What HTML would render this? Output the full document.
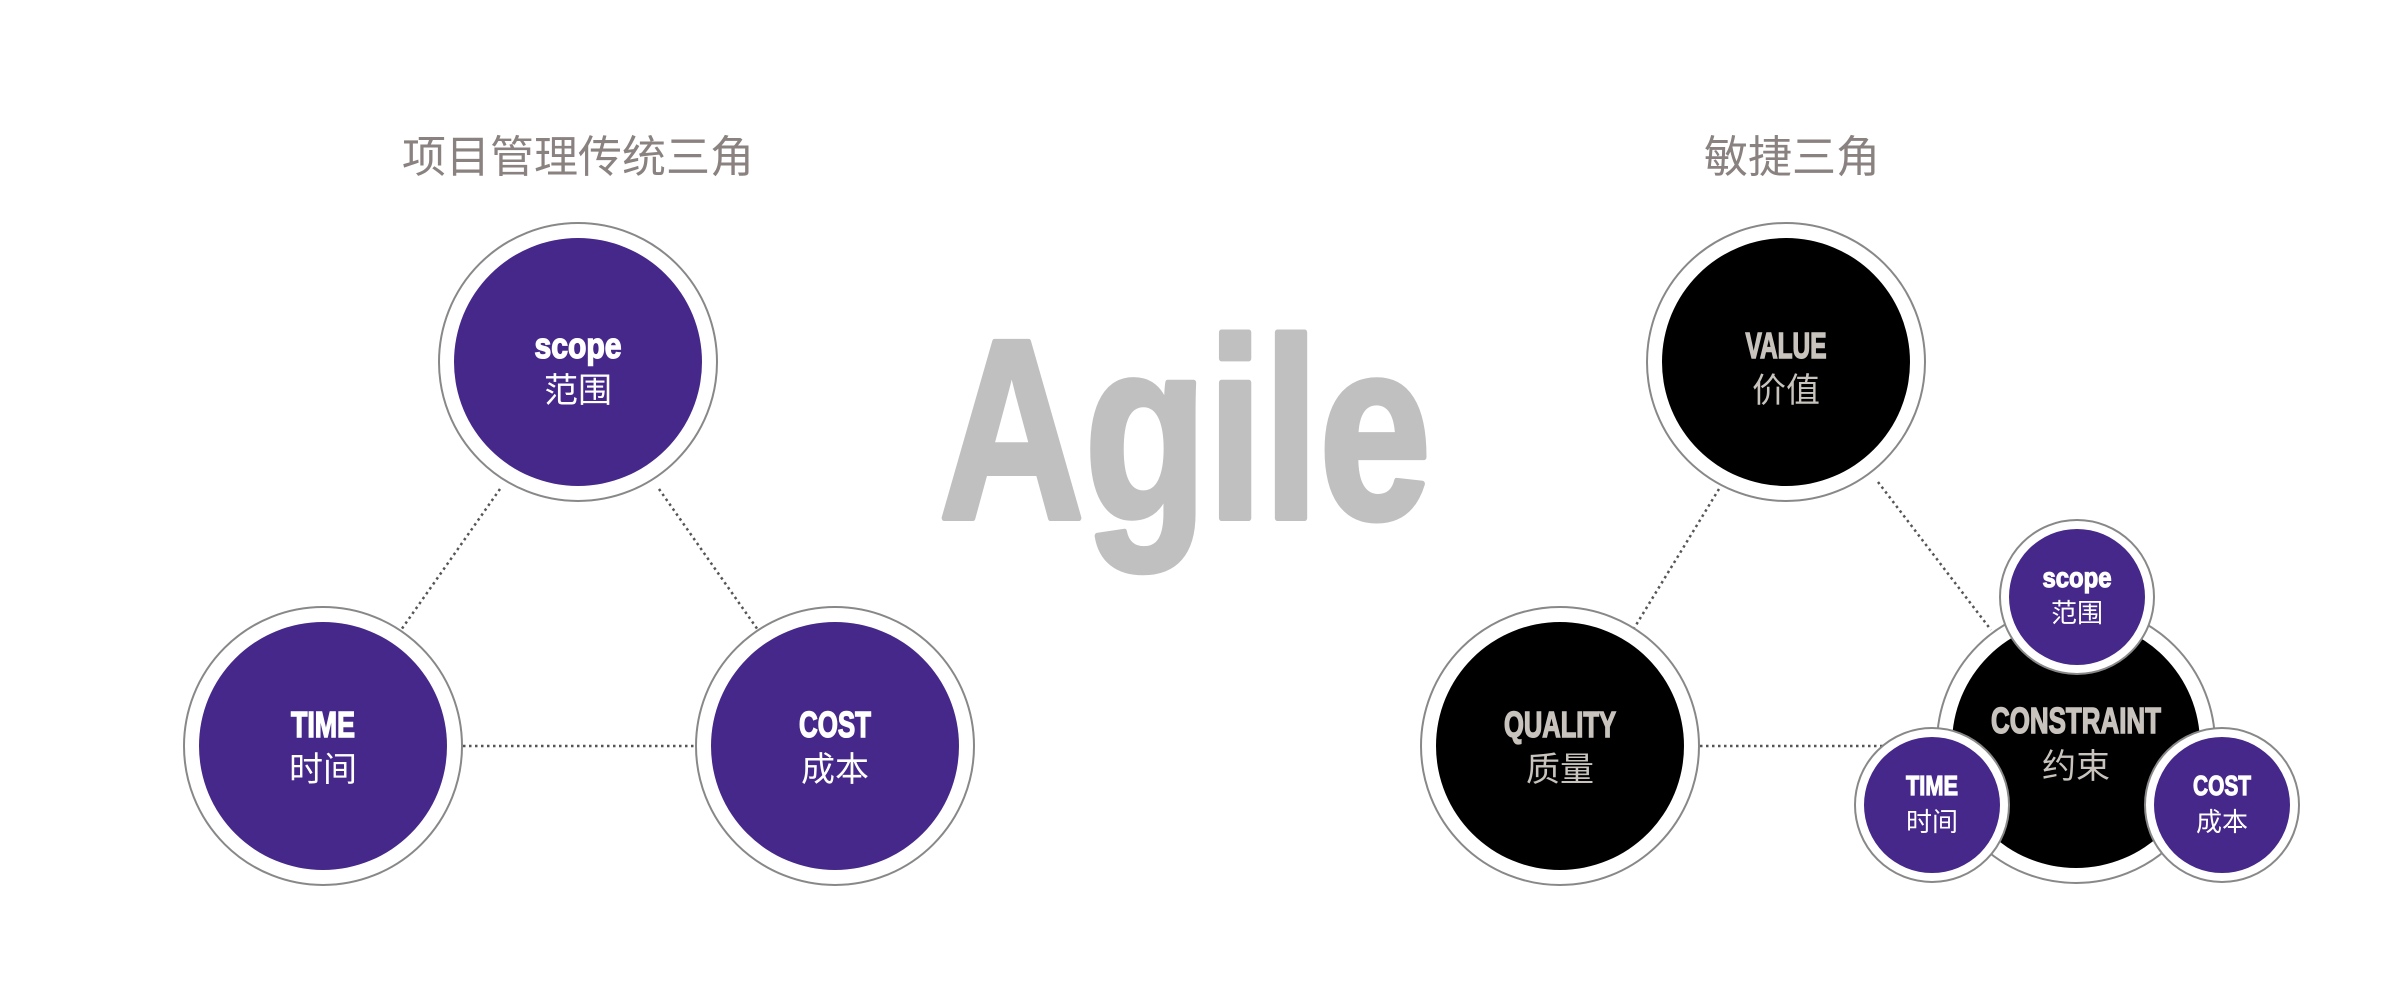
<!DOCTYPE html>
<html><head><meta charset="utf-8"><style>
html,body{margin:0;padding:0;background:#fff;}
svg{display:block;}
.en{font-family:"Liberation Sans Narrow","Liberation Sans",sans-serif;font-weight:bold;}
.zh{font-family:"Liberation Sans","Noto Sans CJK SC",sans-serif;}
</style></head><body>
<svg width="2398" height="998" viewBox="0 0 2398 998" xmlns="http://www.w3.org/2000/svg">
<g stroke="#555" stroke-width="2.5" stroke-dasharray="2.5 3.5" fill="none">
<line x1="500" y1="489" x2="401" y2="630"/>
<line x1="659" y1="489" x2="758" y2="630"/>
<line x1="463" y1="746" x2="697" y2="746"/>
<line x1="1719" y1="489" x2="1633" y2="630"/>
<line x1="1878" y1="482" x2="1991" y2="630"/>
<line x1="1700" y1="746" x2="1900" y2="746"/>
</g>
<text x="578" y="172" text-anchor="middle" class="zh" font-size="44" fill="#8a8280">项目管理传统三角</text>
<text x="1792" y="172" text-anchor="middle" class="zh" font-size="44" fill="#8a8280">敏捷三角</text>
<text x="1185" y="518" text-anchor="middle" class="en" font-size="256" fill="#c0c0c0" stroke="#c0c0c0" stroke-width="6" stroke-linejoin="round" textLength="492" lengthAdjust="spacingAndGlyphs">Agile</text>
<g stroke="#888" stroke-width="2" fill="#fff">
<circle cx="578" cy="362" r="139"/><circle cx="323" cy="746" r="139"/><circle cx="835" cy="746" r="139"/>
<circle cx="1786" cy="362" r="139"/><circle cx="1560" cy="746" r="139"/><circle cx="2076" cy="744" r="139"/>
</g>
<g fill="#45288a">
<circle cx="578" cy="362" r="124"/><circle cx="323" cy="746" r="124"/><circle cx="835" cy="746" r="124"/>
</g>
<g fill="#000">
<circle cx="1786" cy="362" r="124"/><circle cx="1560" cy="746" r="124"/><circle cx="2076" cy="744" r="124"/>
</g>
<g class="en" font-size="36" fill="#fff" stroke="#fff" stroke-width="1.5" text-anchor="middle">
<text x="578" y="358" textLength="87" lengthAdjust="spacingAndGlyphs">scope</text>
<text x="323" y="737" textLength="64" lengthAdjust="spacingAndGlyphs">TIME</text>
<text x="835" y="737" textLength="72" lengthAdjust="spacingAndGlyphs">COST</text>
</g>
<g class="zh" font-size="34" fill="#fff" text-anchor="middle">
<text x="578" y="402">范围</text><text x="323" y="781">时间</text><text x="835" y="781">成本</text>
</g>
<g class="en" font-size="36" fill="#c8c3bd" stroke="#c8c3bd" stroke-width="1.5" text-anchor="middle">
<text x="1786" y="358" textLength="81" lengthAdjust="spacingAndGlyphs">VALUE</text>
<text x="1560" y="737" textLength="112" lengthAdjust="spacingAndGlyphs">QUALITY</text>
<text x="2076" y="733" textLength="170" lengthAdjust="spacingAndGlyphs">CONSTRAINT</text>
</g>
<g class="zh" font-size="34" fill="#c8c3bd" text-anchor="middle">
<text x="1786" y="402">价值</text><text x="1560" y="781">质量</text><text x="2076" y="778">约束</text>
</g>
<g stroke="#888" stroke-width="2" fill="#fff">
<circle cx="2077" cy="597" r="77"/><circle cx="1932" cy="805" r="77"/><circle cx="2222" cy="805" r="77"/>
</g>
<g fill="#45288a">
<circle cx="2077" cy="597" r="68"/><circle cx="1932" cy="805" r="68"/><circle cx="2222" cy="805" r="68"/>
</g>
<g class="en" font-size="28" fill="#fff" stroke="#fff" stroke-width="1.2" text-anchor="middle">
<text x="2077" y="587" textLength="69" lengthAdjust="spacingAndGlyphs">scope</text>
<text x="1932" y="795" textLength="52" lengthAdjust="spacingAndGlyphs">TIME</text>
<text x="2222" y="795" textLength="58" lengthAdjust="spacingAndGlyphs">COST</text>
</g>
<g class="zh" font-size="26" fill="#fff" text-anchor="middle">
<text x="2077" y="622">范围</text><text x="1932" y="831">时间</text><text x="2222" y="831">成本</text>
</g>
</svg>
</body></html>
